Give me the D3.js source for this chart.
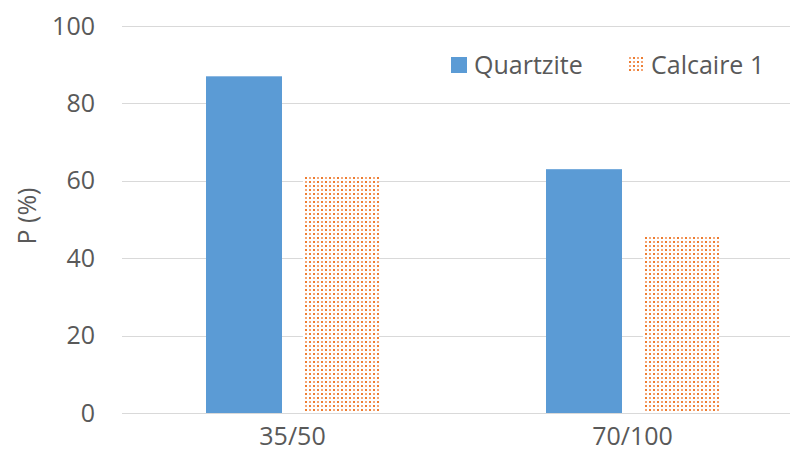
<!DOCTYPE html>
<html><head><meta charset="utf-8">
<script src="https://cdn.jsdelivr.net/npm/d3@7"></script>
<style>body{margin:0;background:#fff}svg{display:block}text{font-family:"Open Sans",sans-serif;fill:#595959}</style>
</head><body>
<script>
const categories = ["35/50", "70/100"];
const seriesNames = ["Quartzite", "Calcaire 1"];
const quartzite = [87, 63];
const calcaire = [61.5, 46];
const yTicks = [0, 20, 40, 60, 80, 100];

const W = 790, H = 465;
const FS = "25px";
const svg = d3.select("body").append("svg").attr("width", W).attr("height", H);
const defs = svg.append("defs");
const pat = defs.append("pattern").attr("id", "dots").attr("patternUnits", "userSpaceOnUse")
  .attr("width", 8).attr("height", 8);
pat.append("rect").attr("width", 8).attr("height", 8).attr("fill", "#fff");
[[0,0,"#ED7D31"],[4,4,"#ED7D31"],[4,0,"#F4A574"],[0,4,"#F4A574"]].forEach(([px,py,c]) =>
  pat.append("rect").attr("x", px + 1).attr("y", py + 1).attr("width", 2).attr("height", 2).attr("fill", c));

const y = d3.scaleLinear().domain([0, 100]).range([413, 26]);
const x = d3.scaleBand().domain(categories).range([122.5, 802.5]);
const barW = 76, gap = 21;

// gridlines
svg.append("g").selectAll("line").data(yTicks.filter(d => d > 0)).join("line")
  .attr("x1", 122).attr("x2", W).attr("y1", d => Math.round(y(d)) + 0.5).attr("y2", d => Math.round(y(d)) + 0.5)
  .attr("stroke", "#D9D9D9").attr("stroke-width", 1);

// y tick labels
const yAxis = d3.axisLeft(y).tickValues(yTicks).tickSize(0).tickPadding(0);
const ga = svg.append("g").attr("transform", "translate(95,0)").call(yAxis);
ga.select(".domain").remove();
ga.selectAll("text").style("font-size", FS).attr("fill", "#595959").attr("font-family", "Open Sans");

// bars
const data = [quartzite, calcaire];
const fills = ["#5B9BD5", "url(#dots)"];
data.forEach((vals, si) => {
  svg.append("g").selectAll("rect").data(categories).join("rect")
    .attr("x", (c) => x(c) + (x.bandwidth() - (2*barW + gap)) / 2 + si * (barW + gap))
    .attr("width", barW)
    .attr("y", (c, i) => y(vals[i]))
    .attr("height", (c, i) => y(0) - y(vals[i]))
    .attr("fill", fills[si]);
});

// x axis line
svg.append("line").attr("x1", 122).attr("x2", W).attr("y1", 413.5).attr("y2", 413.5)
  .attr("stroke", "#D9D9D9").attr("stroke-width", 1);

// x labels
const xAxis = d3.axisBottom(x).tickSize(0).tickPadding(0);
const gx = svg.append("g").attr("transform", "translate(0,427)").call(xAxis);
gx.select(".domain").remove();
gx.selectAll("text").style("font-size", FS).attr("fill", "#595959").attr("font-family", "Open Sans");

// y title
svg.append("text").attr("transform", "translate(36,216) rotate(-90)").attr("text-anchor", "middle")
  .style("font-size", FS).text("P (%)");

// legend
const leg = [{name: seriesNames[0], fill: fills[0], x: 451, tx: 474}, {name: seriesNames[1], fill: fills[1], x: 627, tx: 651}];
const lg = svg.append("g").selectAll("g").data(leg).join("g");
lg.append("rect").attr("x", d => d.x).attr("y", 57).attr("width", 16).attr("height", 16).attr("fill", d => d.fill);
lg.append("text").attr("x", d => d.tx).attr("y", 74).style("font-size", FS).text(d => d.name);
</script>
</body></html>
